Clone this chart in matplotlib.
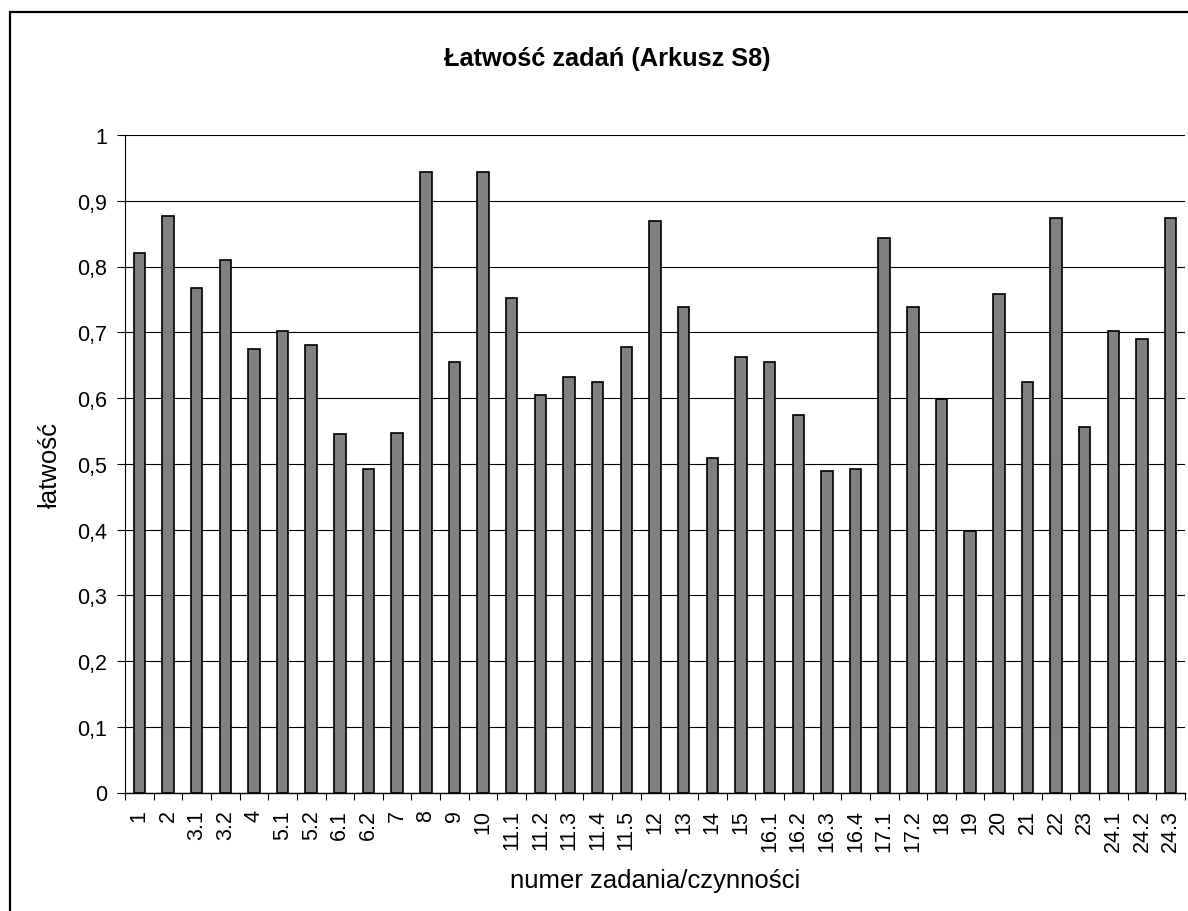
import matplotlib.pyplot as plt
from matplotlib.patches import Rectangle
from matplotlib.ticker import FixedLocator, FuncFormatter

plt.rcParams['font.family'] = ['Liberation Sans', 'DejaVu Sans']

# Data
tasks = ['1', '2', '3.1', '3.2', '4', '5.1', '5.2', '6.1', '6.2', '7', '8', '9',
         '10', '11.1', '11.2', '11.3', '11.4', '11.5', '12', '13', '14', '15',
         '16.1', '16.2', '16.3', '16.4', '17.1', '17.2', '18', '19', '20', '21',
         '22', '23', '24.1', '24.2', '24.3']
ease = [0.821, 0.877, 0.768, 0.810, 0.675, 0.702, 0.680, 0.545, 0.492, 0.547,
        0.944, 0.654, 0.944, 0.752, 0.604, 0.632, 0.625, 0.678, 0.869, 0.739,
        0.508, 0.662, 0.654, 0.574, 0.489, 0.492, 0.843, 0.739, 0.598, 0.398,
        0.758, 0.625, 0.874, 0.556, 0.702, 0.689, 0.874]

W, H = 1188, 912
fig = plt.figure(figsize=(W / 100, H / 100), dpi=100)
fig.patch.set_facecolor('white')

# chart area border (only left/top are visible in the picture)
fig.add_artist(Rectangle((10 / W, -0.05), 1.2, 1 - 13 / H + 0.05,
                         transform=fig.transFigure, fill=False,
                         edgecolor='black', linewidth=1.6))

ax = fig.add_axes([125 / W, 1 - 793.5 / H, (1185 - 125) / W, (793.5 - 136) / H])

x = range(len(tasks))
ax.bar(x, ease, width=0.4, color='#808080', edgecolor='black', linewidth=1.2,
       zorder=3)

ax.set_xlim(-0.5, len(tasks) - 0.5)
ax.set_ylim(0, 1)

# y axis
ax.set_yticks([i / 10 for i in range(11)])
ax.yaxis.set_major_formatter(FuncFormatter(lambda v, p: f'{v:.1f}'.replace('.', ',')
                                           if 0 < v < 1 else f'{v:.0f}'))
ax.tick_params(axis='y', direction='out', length=6, width=0.8, labelsize=15.5,
               pad=7)
ax.grid(axis='y', color='black', linewidth=0.8, zorder=0)

# x axis: labels at centres, tick marks between categories
ax.set_xticks(list(x))
ax.set_xticklabels(tasks, rotation=90, fontsize=15.5)
ax.tick_params(axis='x', which='major', length=0, pad=12)
ax.xaxis.set_minor_locator(FixedLocator([i - 0.5 for i in range(len(tasks) + 1)]))
ax.tick_params(axis='x', which='minor', direction='out', length=5, width=0.8)

for s in ['top', 'right']:
    ax.spines[s].set_visible(False)
ax.spines['left'].set_linewidth(0.8)
ax.spines['bottom'].set_linewidth(1.0)

ax.set_xlabel('numer zadania/czynności', fontsize=18.5, labelpad=12)
ax.set_ylabel('łatwość', fontsize=18.5)
ax.yaxis.set_label_coords(-0.0594, 0.5)
fig.text(607 / W, 1 - 59 / H, 'Łatwość zadań (Arkusz S8)', ha='center',
         va='center', fontsize=18.3, fontweight='bold')

fig.savefig('out.png', dpi=100, facecolor='white')
